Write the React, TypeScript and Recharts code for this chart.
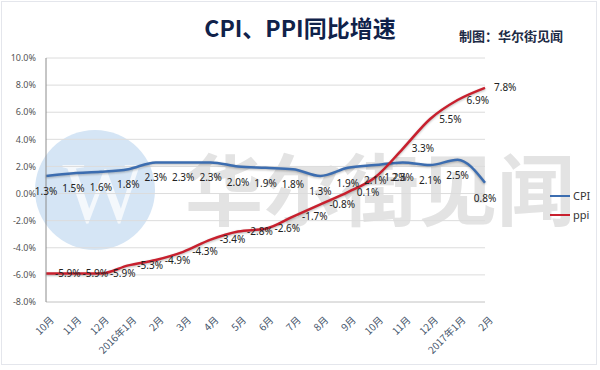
import React from 'react';
import { LineChart, Line, XAxis, YAxis, CartesianGrid, LabelList, Legend } from 'recharts';

const months = ['10月', '11月', '12月', '2016年1月', '2月', '3月', '4月', '5月', '6月', '7月', '8月', '9月', '10月', '11月', '12月', '2017年1月', '2月'];
const cpiValues = [1.3, 1.5, 1.6, 1.8, 2.3, 2.3, 2.3, 2.0, 1.9, 1.8, 1.3, 1.9, 2.1, 2.3, 2.1, 2.5, 0.8];
const ppiValues = [-5.9, -5.9, -5.9, -5.3, -4.9, -4.3, -3.4, -2.8, -2.6, -1.7, -0.8, 0.1, 1.2, 3.3, 5.5, 6.9, 7.8];
const yTicks = [-8, -6, -4, -2, 0, 2, 4, 6, 8, 10];
const seriesNames = ['CPI', 'ppi'];
const titleText = 'CPI、PPI同比增速';
const creditText = '制图：华尔街见闻';
const watermarkText = '华尔街见闻';

const CPI_COLOR = '#3c6db0';
const PPI_COLOR = '#c8202e';

const data = months.map((m, i) => ({ idx: i, month: m, cpi: cpiValues[i], ppi: ppiValues[i] }));

const pct = (v: any) => `${Number(v).toFixed(1)}%`;

const XTick = (props: any) => {
  const { x, y, payload } = props;
  return (
    <g transform={`translate(${x + 3},${y + 5})`}>
      <text
        x={0}
        y={0}
        dy={8}
        textAnchor="end"
        transform="rotate(-45)"
        fontSize={10}
        fill="#44546a"
        fontFamily="'Noto Sans CJK SC', 'Noto Sans', sans-serif"
      >
        {months[payload.value] ?? payload.value}
      </text>
    </g>
  );
};

const LegendContent = () => (
  <div style={{ width: 50, height: 40, fontFamily: "'Noto Sans', sans-serif", fontSize: 11, color: '#333' }}>
    {[CPI_COLOR, PPI_COLOR].map((c, i) => (
      <div key={i} style={{ display: 'flex', alignItems: 'center', height: 19 }}>
        <div style={{ width: 20, height: 2, background: c, marginLeft: 2, marginRight: 3 }} />
        <span>{seriesNames[i]}</span>
      </div>
    ))}
  </div>
);

export default function App() {
  return (
    <div style={{ position: 'absolute', left: 0, top: 0, width: 600, height: 370, background: '#fff', fontFamily: "'Noto Sans', sans-serif" }}>
      <style>{`.recharts-line-curve { filter: drop-shadow(0px 1.5px 1px rgba(0,0,0,0.28)); }`}</style>
      <svg width={600} height={370} style={{ position: 'absolute', left: 0, top: 0 }}>
        <rect x={1.5} y={1.5} width={595} height={363} fill="#fff" stroke="#e4e6ec" />
        <circle cx={95} cy={190} r={60} fill="#d5e5f5" />
        <text x={103} y={222} textAnchor="middle" fontSize={86} fontFamily="'Liberation Serif', serif" fill="#f4f8fc">W</text>
        <text x={185} y={220} fontSize={78} fontWeight={700} fontFamily="'Noto Sans CJK SC', sans-serif" fill="#e3e3e3">{watermarkText}</text>
        <text x={300} y={36.5} textAnchor="middle" fontSize={23} fontWeight={700} fontFamily="'Noto Sans CJK SC', sans-serif" fill="#10224a">{titleText}</text>
        <text x={511} y={41} textAnchor="middle" fontSize={13} fontWeight={700} fontFamily="'Noto Sans CJK SC', sans-serif" fill="#1d2b45">{creditText}</text>
      </svg>
      <div style={{ position: 'absolute', left: 0, top: 0 }}>
        <LineChart width={600} height={370} data={data} margin={{ top: 58, right: 65, bottom: 8, left: 0 }}>
          <CartesianGrid vertical={false} stroke="#dcdcdc" />
          <XAxis
            dataKey="idx"
            type="category"
            interval={0}
            height={60}
            tickLine={false}
            axisLine={{ stroke: '#d4d4d4' }}
            tick={<XTick />}
          />
          <YAxis
            domain={[-8, 10]}
            ticks={yTicks}
            width={46}
            tickLine={false}
            tickSize={0}
            tickMargin={10}
            axisLine={{ stroke: '#8c8c8c' }}
            tickFormatter={pct}
            tick={{ fontSize: 9, fill: '#555', fontFamily: "'Noto Sans', sans-serif" }}
            interval={0}
          />
          <Legend
            layout="vertical"
            align="right"
            verticalAlign="middle"
            content={<LegendContent />}
            wrapperStyle={{ left: 548, top: 186, right: 'auto', width: 50 }}
          />
          <Line
            type="monotone"
            dataKey="cpi"
            name={seriesNames[0]}
            stroke={CPI_COLOR}
            strokeWidth={2.5}
            dot={false}
            activeDot={false}
            isAnimationActive={false}
          >
            <LabelList dataKey="cpi" position="bottom" offset={12} formatter={pct} fontSize={10} fill="#222" fontFamily="'Noto Sans', sans-serif" />
          </Line>
          <Line
            type="monotone"
            dataKey="ppi"
            name={seriesNames[1]}
            stroke={PPI_COLOR}
            strokeWidth={2.5}
            dot={false}
            activeDot={false}
            isAnimationActive={false}
          >
            <LabelList dataKey="ppi" position="right" offset={9} formatter={pct} fontSize={10} fill="#222" fontFamily="'Noto Sans', sans-serif" />
          </Line>
        </LineChart>
      </div>
    </div>
  );
}
